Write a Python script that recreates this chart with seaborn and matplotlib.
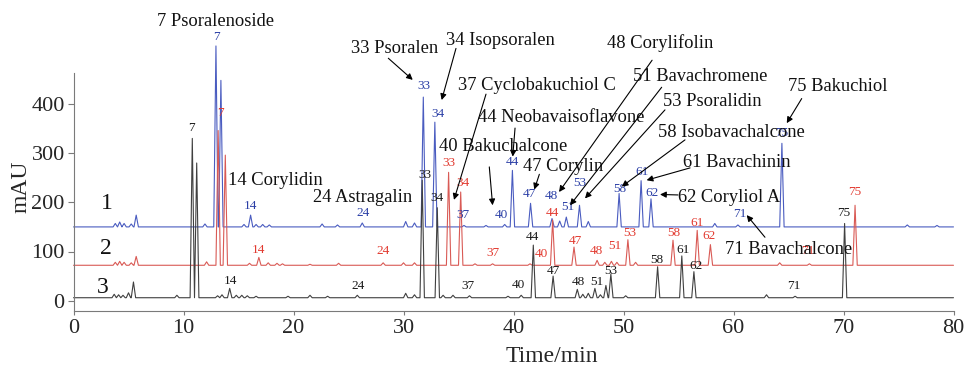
import matplotlib
matplotlib.use("Agg")
import matplotlib.pyplot as plt
import seaborn as sns
import pandas as pd

# ---------------- data ----------------
traces = ["1", "2", "3"]
trace_base = {"1": 150, "2": 72, "3": 6}          # vertical offset of each trace (mAU)

blue_t = [3.8, 4.2, 4.6, 5.25, 5.7, 11.95, 12.95, 13.4, 15.5, 16.1, 16.6, 17.2, 17.8,
          22.6, 24.0, 26.25, 30.2, 31.0, 31.8, 32.85, 35.5, 37.5, 39.2, 39.9, 41.55,
          43.5, 44.2, 44.8, 46.0, 46.8, 49.6, 51.6, 52.5, 58.3, 60.4, 64.4, 75.8, 78.5]
blue_h = [7, 10, 7, 6, 24, 6, 368, 298, 5, 24, 5, 5, 4,
          6, 4, 8, 11, 8, 264, 213, 3, 3, 5, 115, 48,
          17, 12, 20, 44, 11, 68, 94, 57, 7, 4, 170, 4, 3]

red_t = [3.8, 4.2, 4.6, 5.25, 5.7, 12.1, 13.15, 13.8, 16.0, 16.85, 17.7, 18.5, 19.0,
         21.5, 24.1, 28.15, 30.0, 31.0, 34.1, 35.2, 36.5, 38.1, 41.5, 43.56, 45.5,
         47.6, 48.3, 48.9, 49.4, 50.4, 51.1, 54.5, 56.7, 57.9, 64.2, 66.9, 71.05]
red_h = [6, 8, 6, 5, 18, 7, 274, 224, 4, 16, 5, 4, 3,
         2, 4, 5, 5, 5, 189, 149, 3, 3, 3, 92, 37,
         10, 6, 8, 6, 52, 6, 51, 71, 42, 5, 3, 122]

black_t = [3.7, 4.1, 4.5, 5.0, 5.45, 9.4, 10.8, 11.2, 13.1, 13.5, 14.2, 14.8, 15.3, 15.8,
           16.6, 19.5, 21.5, 23.1, 25.8, 30.2, 31.0, 31.7, 33.07, 33.6, 34.5, 36.0, 39.5,
           40.7, 41.8, 43.6, 45.8, 46.3, 46.8, 47.4, 47.9, 48.4, 48.85, 50.2, 53.1, 55.3,
           56.4, 63.0, 65.6, 70.1]
black_h = [7, 6, 5, 10, 32, 5, 324, 274, 4, 6, 19, 5, 5, 4,
           3, 3, 5, 3, 5, 9, 6, 239, 183, 5, 5, 4, 3,
           5, 107, 44, 17, 7, 9, 19, 6, 25, 48, 4, 63, 85,
           53, 6, 3, 151]

peaks = {"1": (blue_t, blue_h), "2": (red_t, red_h), "3": (black_t, black_h)}

# peak-number labels: (text, time, mAU)
blue_labels = [("7", 12.95, 537), ("14", 16.05, 192), ("24", 26.35, 179), ("33", 31.89, 436),
               ("34", 33.11, 380), ("37", 35.38, 174), ("40", 38.93, 174), ("44", 39.93, 282),
               ("47", 41.44, 217), ("48", 43.41, 213), ("51", 44.98, 191), ("53", 46.05, 240),
               ("58", 49.68, 228), ("61", 51.65, 262), ("62", 52.56, 219), ("71", 60.59, 177),
               ("75", 64.38, 340)]
red_labels = [("7", 13.32, 381), ("14", 16.8, 103), ("24", 28.16, 100), ("33", 34.14, 279),
              ("34", 35.38, 239), ("37", 38.11, 96), ("40", 42.56, 95), ("44", 43.53, 178),
              ("47", 45.59, 122), ("48", 47.5, 101), ("51", 49.23, 111), ("53", 50.59, 137),
              ("58", 54.53, 137), ("61", 56.65, 158), ("62", 57.8, 131), ("71", 66.8, 100),
              ("75", 71.05, 220)]
black_labels = [("7", 10.75, 352), ("14", 14.23, 40), ("24", 25.89, 30), ("33", 31.95, 255),
                ("34", 33.02, 208), ("37", 35.89, 30), ("40", 40.44, 32), ("44", 41.75, 129),
                ("47", 43.62, 61), ("48", 45.89, 38), ("51", 47.56, 38), ("53", 48.84, 61),
                ("58", 53.02, 83), ("61", 55.43, 104), ("62", 56.59, 70), ("71", 65.5, 30),
                ("75", 70.05, 178)]

# compound names: (text, text_x, text_y, arrow_tail, arrow_head)
compounds = [
    ("7 Psoralenoside", 7.59, 567, None, None),
    ("14 Corylidin", 14.05, 245, None, None),
    ("24 Astragalin", 21.77, 209, None, None),
    ("33 Psoralen", 25.2, 512, (28.62, 493), (30.84, 449)),
    ("34 Isopsoralen", 33.86, 530, (34.77, 513), (33.47, 408)),
    ("37 Cyclobakuchiol C", 34.98, 438, (37.5, 420), (34.59, 205)),
    ("44 Neobavaisoflavone", 36.77, 373, (40.14, 351), (39.93, 293)),
    ("40 Bakuchalcone", 33.25, 313, (37.8, 272), (38.1, 194)),
    ("47 Corylin", 40.89, 272, (42.35, 257), (41.89, 226)),
    ("48 Corylifolin", 48.5, 523, (52.6, 489), (44.14, 221)),
    ("51 Bavachromene", 50.86, 455, (53.47, 434), (45.14, 194)),
    ("53 Psoralidin", 53.59, 405, (53.77, 388), (46.5, 208)),
    ("58 Isobavachalcone", 53.14, 341, (55.59, 327), (49.84, 232)),
    ("61 Bavachinin", 55.41, 280, (56.05, 270), (52.1, 245)),
    ("62 Coryliol A", 54.95, 210, (54.95, 215), (53.32, 216)),
    ("75 Bakuchiol", 64.95, 436, (66.2, 411), (64.84, 361)),
    ("71 Bavachalcone", 59.23, 104, (62.86, 129), (61.2, 174)),
]

trace_labels = [("1", 3.02, 198), ("2", 2.95, 107), ("3", 2.7, 27)]

x_ticks = [0, 10, 20, 30, 40, 50, 60, 70, 80]
y_ticks = [0, 100, 200, 300, 400]

# ---------------- style ----------------
sns.set_style("ticks")
plt.rcParams["font.family"] = ["Liberation Serif", "DejaVu Serif"]

line_colors = {"1": "#4a5cc0", "2": "#d95a55", "3": "#404040"}
text_colors = {"1": "#2b3fa6", "2": "#e23a30", "3": "#1a1a1a"}
HALF_W = 0.2  # half base width of a drawn peak (min)

rows = []
for tr in traces:
    base = trace_base[tr]
    ts, hs = peaks[tr]
    pts = [(0.0, base)]
    for t, h in zip(ts, hs):
        pts += [(t - HALF_W, base), (t, base + h), (t + HALF_W, base)]
    pts.append((80.0, base))
    for i, (x, y) in enumerate(pts):
        rows.append({"order": i, "time": x, "mAU": y, "trace": tr})
df = pd.DataFrame(rows)

fig = plt.figure(figsize=(9.69, 3.69), dpi=100)
ax = fig.add_axes([73.5 / 969, 1 - 311 / 369, 880 / 969, 238 / 369])

sns.lineplot(data=df, x="time", y="mAU", hue="trace", palette=line_colors,
             estimator=None, sort=False, legend=False, linewidth=0.8, ax=ax)
for ln in ax.lines:
    ln.set_clip_on(False)

ax.set_xlim(0, 80)
ax.set_ylim(-21, 463)
ax.set_xticks(x_ticks)
ax.set_yticks(y_ticks)
sns.despine(ax=ax)
for side in ("left", "bottom"):
    ax.spines[side].set_color("#7a7a7a")
    ax.spines[side].set_linewidth(0.8)
ax.tick_params(axis="y", direction="out", length=4.3, width=0.8, color="#7a7a7a",
               pad=2, labelsize=16)
ax.tick_params(axis="x", direction="out", length=3, width=0.8, color="#7a7a7a",
               pad=3, labelsize=16)

ax.set_xlabel("Time/min", fontsize=17)
ax.xaxis.set_label_coords(0.544, -0.193)
ax.xaxis.label.set_verticalalignment("center")
ax.set_ylabel("mAU", fontsize=17)
ax.yaxis.set_label_coords(-0.0597, 0.52)
ax.yaxis.label.set_verticalalignment("center")

for tr, labels in (("1", blue_labels), ("2", red_labels), ("3", black_labels)):
    for s, x, y in labels:
        ax.text(x, y, s, ha="center", va="center", fontsize=9.5,
                color=text_colors[tr], clip_on=False)

for s, x, y in trace_labels:
    ax.text(x, y, s, ha="center", va="center", fontsize=17, color="#111111")

for s, x, y, tail, head in compounds:
    ax.text(x, y, s, ha="left", va="center", fontsize=13.3, color="#111111",
            clip_on=False)
    if tail is not None:
        ax.annotate("", xy=head, xytext=tail, annotation_clip=False,
                    arrowprops=dict(arrowstyle="-|>", color="black", lw=0.8,
                                    mutation_scale=9, shrinkA=0, shrinkB=0))

fig.savefig("out.png", dpi=100)
